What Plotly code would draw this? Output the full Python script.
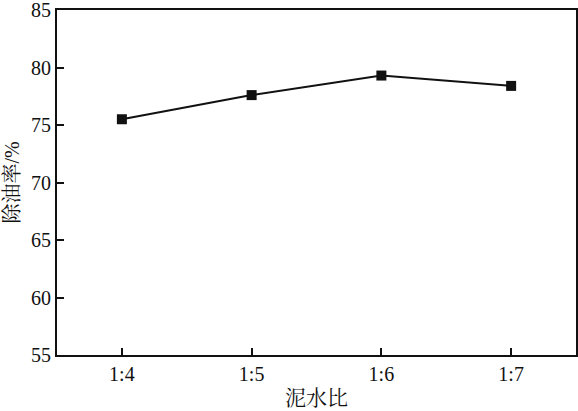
import plotly.graph_objects as go

ratios = ["1:4", "1:5", "1:6", "1:7"]
removal = [75.5, 77.6, 79.3, 78.4]
y_ticks = [55, 60, 65, 70, 75, 80, 85]

font_family = "'Liberation Serif', 'Times New Roman', 'Noto Serif CJK SC', 'Noto Sans CJK SC', serif"

fig = go.Figure(go.Scatter(
    x=ratios, y=removal, mode="lines+markers",
    line=dict(color="#111111", width=2),
    marker=dict(symbol="square", size=10, color="#111111"),
    cliponaxis=False,
))

fig.update_layout(
    width=578, height=411,
    margin=dict(l=57, r=2, t=10, b=56, autoexpand=False),
    paper_bgcolor="white", plot_bgcolor="white",
    showlegend=False,
    font=dict(family=font_family, size=18, color="#111111"),
)
fig.update_xaxes(
    type="category", range=[-0.5, 3.5],
    showline=True, linecolor="#111111", linewidth=2, mirror=True,
    ticks="inside", ticklen=7, tickwidth=1.5, tickcolor="#111111",
    showgrid=False, zeroline=False, automargin=False,
    title=dict(text="泥水比", font=dict(size=21), standoff=6),
    tickfont=dict(size=20), ticklabeloverflow="allow",
)
fig.update_yaxes(
    range=[55, 85], tickvals=y_ticks,
    showline=True, linecolor="#111111", linewidth=2, mirror=True,
    ticks="inside", ticklen=7, tickwidth=1.5, tickcolor="#111111",
    showgrid=False, zeroline=False, automargin=False,
    title=dict(text="除油率/%", font=dict(size=20), standoff=6),
    tickfont=dict(size=20), ticklabeloverflow="allow",
)

fig.write_html(
    "out.html",
    config={"displayModeBar": False},
    post_script="document.body.style.margin='0';document.body.style.padding='0';",
)
